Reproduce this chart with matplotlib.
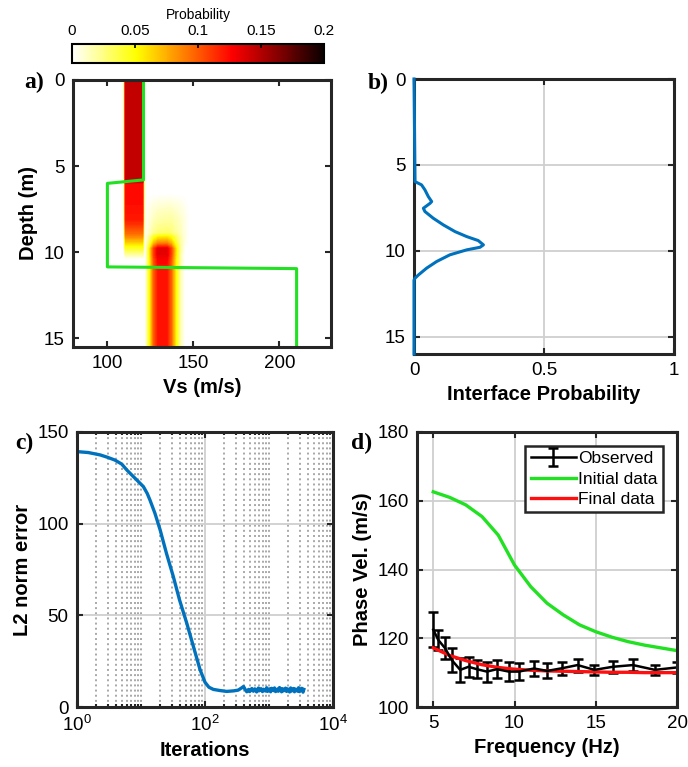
import numpy as np
import matplotlib
matplotlib.use('Agg')
import matplotlib.pyplot as plt
from matplotlib.ticker import LogLocator, NullFormatter
from matplotlib.cm import ScalarMappable
from matplotlib.colors import Normalize

plt.rcParams['font.family'] = ['Liberation Sans', 'DejaVu Sans']

# --- a) probability of Vs with depth (values read at grid nodes) ---
vs_nodes = [80, 109.5, 110.5, 120.5, 121.5, 122, 124, 127, 129.5, 134.5, 137, 140, 142.5, 145, 147.5, 230]
depth_nodes = [0, 5.9, 6.0, 6.6, 7.5, 8.1, 8.9, 9.1, 9.5, 9.8, 10.1, 10.4, 11, 15.5]

upper_vs = [0, 0, 1, 1, 0, 0, 0, 0, 0, 0, 0, 0, 0, 0, 0, 0]
upper_depth = [0.145, 0.145, 0.125, 0.125, 0.123, 0.12, 0.095, 0.085, 0.06, 0.04, 0.02, 0, 0, 0]
lower_vs = [0, 0, 0, 0, 0, 0, 0.3, 0.8, 1, 1, 0.8, 0.4, 0.12, 0, 0, 0]
lower_depth = [0, 0, 0, 0, 0, 0, 0.01, 0.035, 0.075, 0.13, 0.135, 0.128, 0.122, 0.122]
halo_vs = [0, 0, 0, 0, 0, 0, 0.35, 0.7, 0.9, 1, 1, 0.8, 0.6, 0.3, 0, 0]
halo_depth = [0, 0, 0, 0, 0.012, 0.018, 0.02, 0.02, 0.015, 0.005, 0, 0, 0, 0]

init_vs = [121, 121, 100, 100, 210, 210]
init_depth = [0, 5.8, 6.0, 10.85, 10.95, 16]

# --- b) interface probability ---
interface_depth = [0, 5.97, 6.16, 6.45, 6.84, 7.13, 7.23, 7.52, 7.71, 8.1, 8.49, 8.88,
                   9.17, 9.4, 9.65, 9.79, 9.94, 10.23, 10.62, 11.0, 11.4, 11.59, 11.7, 16]
interface_prob = [0, 0.004, 0.029, 0.042, 0.055, 0.068, 0.062, 0.036, 0.042, 0.074, 0.113, 0.158,
                  0.203, 0.247, 0.267, 0.254, 0.203, 0.138, 0.087, 0.049, 0.017, 0.004, 0, 0]

# --- c) misfit vs iterations ---
iterations = [1, 1.5, 2.3, 3.0, 3.9, 5.0, 6.0, 7.2, 8.6, 10.9, 12.5, 13.8, 16.5, 19.9, 25, 32,
              40, 52, 66, 84, 100, 115, 135, 170, 218, 280, 330, 380, 400, 420, 450,
              480, 500, 540, 570, 600, 640, 680, 700, 750, 790, 820, 880, 920, 950, 1020,
              1060, 1100, 1180, 1220, 1270, 1360, 1400, 1460, 1570, 1620, 1690, 1810, 1880,
              1950, 2100, 2180, 2250, 2420, 2500, 2600, 2800, 2900, 3000, 3250, 3400, 3500]
l2_error = [139.3, 138.8, 137.5, 136.2, 134.7, 132.5, 129.3, 126.5, 123.8, 120.2, 116.5, 112.9,
            105.7, 96.6, 83.8, 71.1, 58.4, 45.6, 32.9, 20.2, 13.5, 10.8, 9.6, 9.0, 8.5, 8.8,
            9.2, 10.6, 11.2, 9.8, 8.3, 9.6, 8.4, 10.1, 8.6, 9.9, 8.2, 10.3, 8.8, 10.0, 8.4,
            9.7, 8.7, 10.5, 8.5, 9.9, 8.3, 10.2, 8.9, 10.4, 8.4, 9.8, 8.6, 10.6, 8.3, 10.0,
            8.8, 10.3, 8.5, 9.9, 8.2, 10.4, 8.7, 10.1, 8.3, 9.8, 8.6, 10.5, 8.4, 10.2, 8.1, 9.6]

# --- d) dispersion curves ---
freq_obs = [5.0, 5.31, 5.73, 6.13, 6.66, 7.17, 7.68, 8.3, 8.92, 9.65, 10.27, 11.2, 12.02,
            12.95, 13.88, 14.92, 16.05, 17.29, 18.64, 19.98]
vel_obs = [122.5, 119.5, 117.1, 113.7, 110.8, 111.7, 111.0, 110.3, 111.0, 110.3, 110.3, 111.2,
           110.5, 111.3, 112.2, 110.8, 111.7, 112.2, 110.8, 111.5]
err_obs = [5.0, 2.9, 3.2, 3.4, 3.6, 2.9, 2.7, 2.9, 2.7, 2.7, 2.4, 2.2, 2.2, 1.9, 1.9, 1.5,
           1.7, 1.8, 1.5, 1.7]
freq_model = [5, 6, 7, 8, 9, 10, 11, 12, 13, 14, 15, 16, 17, 18, 19, 20]
vel_initial = [162.6, 161.0, 158.8, 155.4, 150.0, 141.3, 135.0, 130.2, 126.8, 123.9, 121.9,
               120.3, 119.0, 118.0, 117.2, 116.4]
vel_final = [117.2, 115.0, 113.5, 112.3, 111.5, 111.0, 110.7, 110.5, 110.4, 110.3, 110.2,
             110.1, 110.1, 110.0, 110.0, 110.0]

W, H = 688, 767
fig = plt.figure(figsize=(W / 100, H / 100), dpi=100)


def rect(l, t, r, b):
    return [l / W, 1 - b / H, (r - l) / W, (b - t) / H]


def style(ax):
    for s in ax.spines.values():
        s.set_linewidth(2.2)
        s.set_color('#262626')
    ax.tick_params(which='both', direction='in', top=True, right=True, labelsize=13.5,
                   color='#262626', width=1.5, pad=6)
    ax.tick_params(which='major', length=4)
    ax.tick_params(which='minor', length=2.5)


label_font = dict(fontsize=14.5, fontweight='bold')
letter_font = dict(fontsize=17, fontweight='bold', family='Liberation Serif')
grid_kw = dict(color='#cfcfcf', linewidth=1.3)

# a)
ax_a = fig.add_axes(rect(73, 80, 331, 347))
P = (np.outer(upper_depth, upper_vs) + np.outer(lower_depth, lower_vs)
     + np.outer(halo_depth, halo_vs))
ax_a.contourf(vs_nodes, depth_nodes, P, levels=np.linspace(0.001, 0.2, 100), cmap='hot_r',
              vmin=0, vmax=0.2)
ax_a.plot(init_vs, init_depth, color='#22E022', lw=2.2)
ax_a.set_xlim(80, 230)
ax_a.set_ylim(15.5, 0)
ax_a.set_xticks([100, 150, 200])
ax_a.set_yticks([0, 5, 10, 15])
ax_a.set_xlabel('Vs (m/s)', **label_font)
ax_a.set_ylabel('Depth (m)', **label_font)
style(ax_a)

cax = fig.add_axes(rect(72, 44, 324, 63))
cb = fig.colorbar(ScalarMappable(norm=Normalize(0, 0.2), cmap='hot_r'), cax=cax,
                  orientation='horizontal', ticks=[0, 0.05, 0.1, 0.15, 0.2])
cax.xaxis.set_ticks_position('top')
cax.xaxis.set_label_position('top')
cax.set_xticklabels(['0', '0.05', '0.1', '0.15', '0.2'])
cax.tick_params(direction='in', length=3, width=1.2, labelsize=11, pad=4)
cb.set_label('Probability', fontsize=10, labelpad=4)
cb.outline.set_linewidth(1.5)

# b)
ax_b = fig.add_axes(rect(414, 79, 674, 354))
ax_b.plot(interface_prob, interface_depth, color='#0072BD', lw=2.2, zorder=3, clip_on=False)
ax_b.set_xlim(0, 1)
ax_b.set_ylim(16, 0)
ax_b.set_xticks([0, 0.5, 1])
ax_b.set_xticklabels(['0', '0.5', '1'])
ax_b.set_yticks([0, 5, 10, 15])
ax_b.grid(True, **grid_kw)
ax_b.set_axisbelow(True)
ax_b.set_xlabel('Interface Probability', **label_font)
style(ax_b)

# c)
ax_c = fig.add_axes(rect(77, 432, 333, 707))
ax_c.semilogx(iterations, l2_error, color='#0072BD', lw=2.4)
ax_c.set_xlim(1, 1e4)
ax_c.set_ylim(0, 150)
ax_c.set_xticks([1, 100, 10000])
ax_c.xaxis.set_minor_locator(LogLocator(base=10, subs=range(1, 10), numticks=20))
ax_c.xaxis.set_minor_formatter(NullFormatter())
ax_c.set_yticks([0, 50, 100, 150])
ax_c.grid(True, which='major', **grid_kw)
ax_c.grid(True, which='minor', axis='x', color='#a8a8a8', linestyle=':', linewidth=1.4)
ax_c.set_axisbelow(True)
ax_c.set_xlabel('Iterations', **label_font)
ax_c.set_ylabel('L2 norm error', **label_font)
style(ax_c)

# d)
ax_d = fig.add_axes(rect(417, 432, 677, 707))
h_obs = ax_d.errorbar(freq_obs, vel_obs, yerr=err_obs, color='k', lw=1.8, capsize=3.5,
                      capthick=1.8, label='Observed')
h_ini, = ax_d.plot(freq_model, vel_initial, color='#22E022', lw=2.4, label='Initial data')
h_fin, = ax_d.plot(freq_model, vel_final, color='#FF1010', lw=2.4, label='Final data')
ax_d.set_xlim(4, 20)
ax_d.set_ylim(100, 180)
ax_d.set_xticks([5, 10, 15, 20])
ax_d.set_yticks([100, 120, 140, 160, 180])
ax_d.grid(True, **grid_kw)
ax_d.set_axisbelow(True)
ax_d.set_xlabel('Frequency (Hz)', **label_font)
ax_d.set_ylabel('Phase Vel. (m/s)', **label_font)
leg = ax_d.legend([h_obs, h_ini, h_fin], ['Observed', 'Initial data', 'Final data'],
                  loc='upper right', fontsize=12.5, fancybox=False, framealpha=1,
                  edgecolor='#262626', handlelength=2.6, handletextpad=0.15,
                  borderpad=0.3, labelspacing=0.3, borderaxespad=0.8)
leg.get_frame().set_linewidth(1.8)
style(ax_d)

# panel letters
fig.text(24 / W, 1 - 82 / H, 'a)', va='center', ha='left', **letter_font)
fig.text(368 / W, 1 - 83 / H, 'b)', va='center', ha='left', **letter_font)
fig.text(15 / W, 1 - 443 / H, 'c)', va='center', ha='left', **letter_font)
fig.text(351 / W, 1 - 443 / H, 'd)', va='center', ha='left', **letter_font)

fig.savefig('out.png', dpi=100)
